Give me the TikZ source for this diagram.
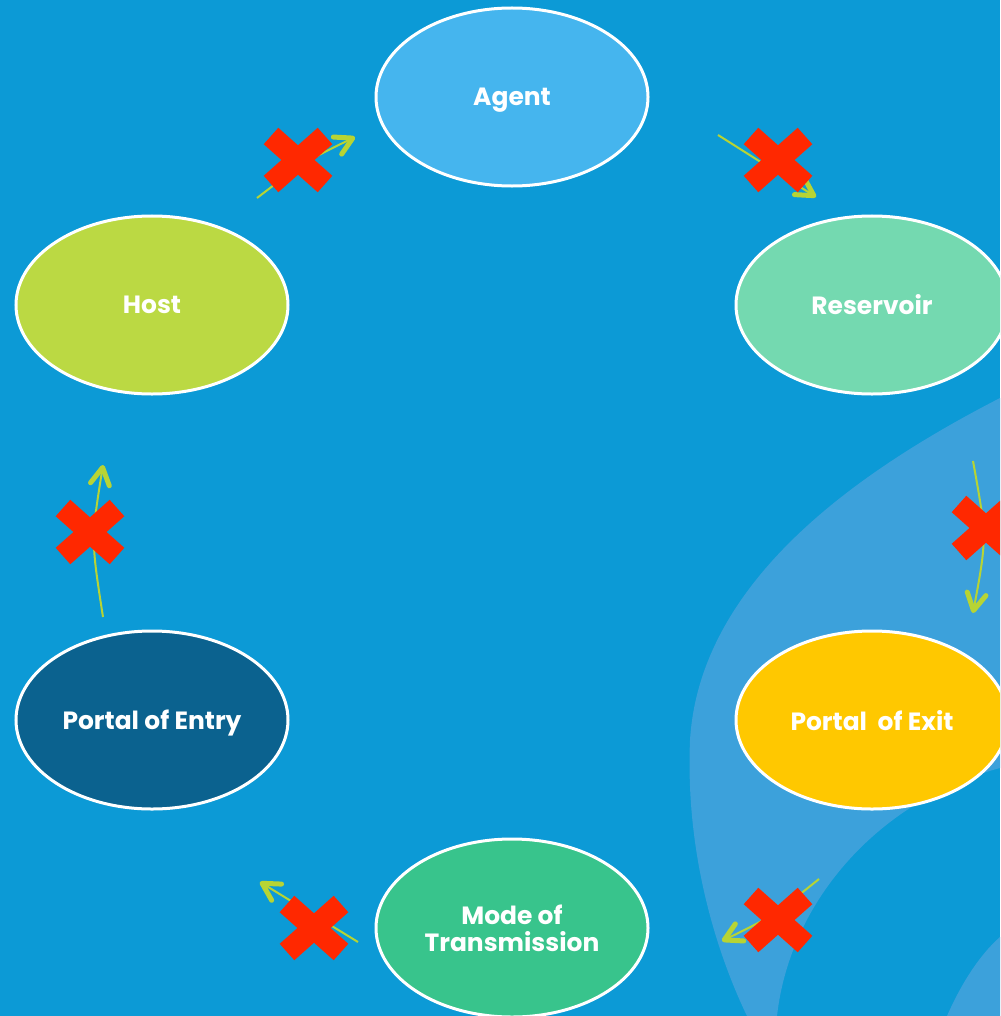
\documentclass[tikz,border=0pt]{standalone}
\usepackage{fontspec}
\setmainfont{Poppins}
\usetikzlibrary{arrows.meta,shapes.geometric}
\definecolor{bgblue}{RGB}{12,154,214}
\definecolor{waveblue}{RGB}{60,161,219}
\definecolor{agentblue}{RGB}{69,181,238}
\definecolor{mint}{RGB}{116,217,176}
\definecolor{sun}{RGB}{255,200,0}
\definecolor{jade}{RGB}{56,196,140}
\definecolor{deepteal}{RGB}{11,98,143}
\definecolor{lime}{RGB}{187,217,67}
\definecolor{sprout}{RGB}{183,212,52}
\definecolor{stopred}{RGB}{255,40,0}

\begin{document}
\begin{tikzpicture}[x=0.2mm,y=-0.2mm,
    stage/.style={ellipse,draw=white,line width=0.6mm,minimum width=54.4mm,minimum height=35.6mm,inner sep=0pt,
      text=white,align=center,text depth=0pt,font=\fontsize{14.2}{15.6}\selectfont\bfseries},
    flow/.style={draw=sprout,line width=0.4mm,-{Straight Barb[length=3.4mm,width=3.8mm,line width=1mm,round]}},
    stopmark/.style={draw=stopred,line width=4.4mm}]
    \useasboundingbox (0,0) rectangle (1000,1016);
    \clip (0,0) rectangle (1000,1016);
    \fill[bgblue] (0,0) rectangle (1000,1016);
    % light wave behind the right side
    \fill[waveblue] (1000,398) .. controls (860,470) and (700,580) .. (690,740) .. controls (685,860) and (720,960) .. (747,1016)
      -- (777,1016) .. controls (790,900) and (880,800) .. (1000,768) -- cycle;
    \fill[waveblue] (947,1016) .. controls (965,975) and (985,950) .. (1000,937) -- (1000,1016) -- cycle;
    % the six stages
    \node[stage,fill=agentblue] (agent) at (512,97) {Agent};
    \node[stage,fill=mint] (reservoir) at (872,305) {Reservoir};
    \node[stage,fill=sun] (exit) at (872,720) {Portal\ \ of Exit};
    \node[stage,fill=jade] (mode) at (512,928) {Mode of\\Transmission};
    \node[stage,fill=deepteal] (entry) at (152,720) {Portal of Entry};
    \node[stage,fill=lime] (host) at (152,305) {Host};
    % broken links
    \coordinate (t1) at (257,198); \coordinate (h1) at (355,137);
    \coordinate (t2) at (718,135); \coordinate (h2) at (816,197);
    \coordinate (t3) at (973,461); \coordinate (h3) at (973,613);
    \coordinate (t4) at (819,879); \coordinate (h4) at (722,941);
    \coordinate (t5) at (358,942); \coordinate (h5) at (260,882);
    \coordinate (t6) at (103,617); \coordinate (h6) at (103,465);
    \draw[flow] (t1) .. controls (304,162) .. (h1);
    \draw[flow] (t2) -- (h2);
    \draw[flow] (t3) .. controls (987,538) .. (h3);
    \draw[flow] (t4) .. controls (773,916) .. (h4);
    \draw[flow] (t5) -- (h5);
    \draw[flow] (t6) .. controls (91,540) .. (h6);
    \foreach \p in {(298,160),(778,160),(986,528),(778,920),(314,928),(90,532)}
      \draw[stopmark] \p +(-27,-24) -- +(27,24) \p +(-27,24) -- +(27,-24);
\end{tikzpicture}
\end{document}
